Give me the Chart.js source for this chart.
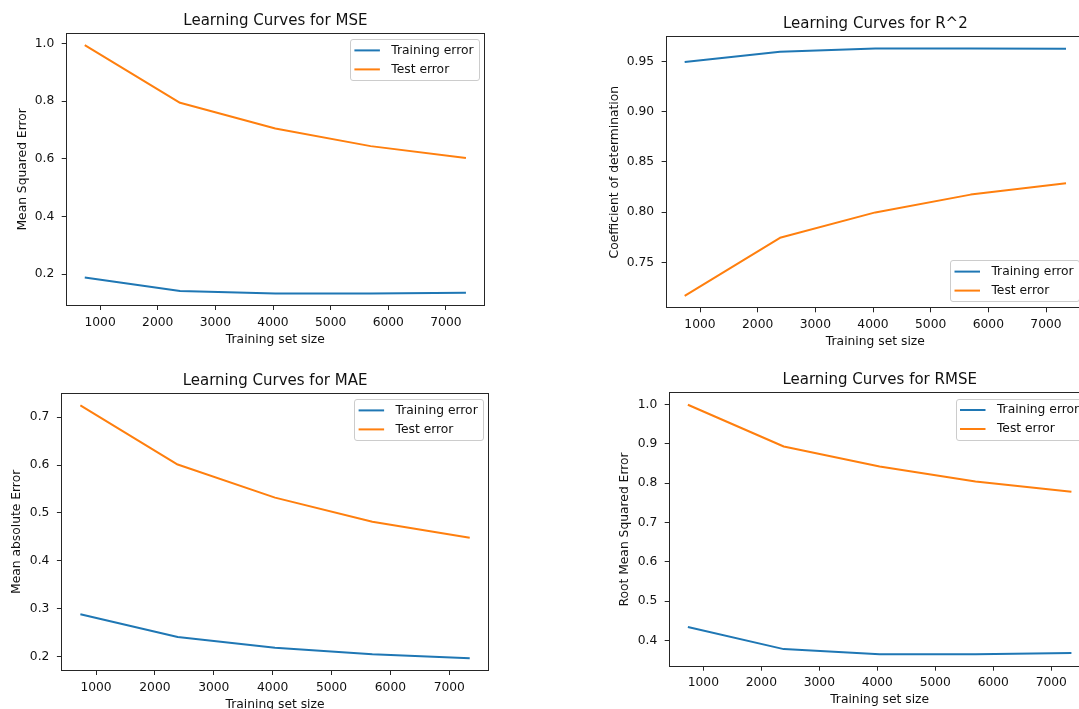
<!DOCTYPE html>
<html>
<head>
<meta charset="utf-8">
<script src="https://cdn.jsdelivr.net/npm/chart.js@4/dist/chart.umd.min.js"></script>
<style>
html,body{margin:0;padding:0;background:#fff;overflow:hidden;width:1079px;height:709px;position:relative}
canvas{position:absolute;display:block}
</style>
</head>
<body>
<canvas id="c1" width="540" height="355" style="left:0;top:0"></canvas>
<canvas id="c2" width="560" height="355" style="left:540px;top:0"></canvas>
<canvas id="c3" width="540" height="360" style="left:0;top:355px"></canvas>
<canvas id="c4" width="560" height="360" style="left:540px;top:355px"></canvas>
<script>
// ---- data ----
const trainSizes = [734, 2387, 4040, 5693, 7347];
const xTicks = [1000, 2000, 3000, 4000, 5000, 6000, 7000];
const seriesLabels = ['Training error', 'Test error'];

const mseTrain = [0.189, 0.142, 0.133, 0.133, 0.136];
const mseTest  = [0.994, 0.794, 0.705, 0.644, 0.603];
const r2Train  = [0.9494, 0.9597, 0.9630, 0.9630, 0.9627];
const r2Test   = [0.7167, 0.7745, 0.7998, 0.8175, 0.8288];
const maeTrain = [0.2887, 0.2412, 0.2188, 0.2050, 0.1967];
const maeTest  = [0.7245, 0.6010, 0.5320, 0.4818, 0.4483];
const rmseTrain = [0.434, 0.378, 0.365, 0.365, 0.368];
const rmseTest  = [0.999, 0.893, 0.842, 0.804, 0.778];

const mseYTicks  = [0.2, 0.4, 0.6, 0.8, 1.0];
const r2YTicks   = [0.75, 0.80, 0.85, 0.90, 0.95];
const maeYTicks  = [0.2, 0.3, 0.4, 0.5, 0.6, 0.7];
const rmseYTicks = [0.4, 0.5, 0.6, 0.7, 0.8, 0.9, 1.0];

const titles = ['Learning Curves for MSE', 'Learning Curves for R^2', 'Learning Curves for MAE', 'Learning Curves for RMSE'];
const yTitles = ['Mean Squared Error', 'Coefficient of determination', 'Mean absolute Error', 'Root Mean Squared Error'];
const xTitle = 'Training set size';

// ---- style ----
const FONT = '"DejaVu Sans", "Liberation Sans", sans-serif';
const TXT = '#111111';
const AX = '#262626';
const BLUE = '#1f77b4', ORANGE = '#ff7f0e';
const FS = 12.3, TFS = 15, LW = 2;

const axesBox = {
  id: 'axesBox',
  afterDraw(chart) {
    const a = chart.chartArea, ctx = chart.ctx;
    ctx.save();
    ctx.strokeStyle = AX; ctx.lineWidth = 1;
    const l = Math.round(a.left) + 0.5, t = Math.round(a.top) + 0.5;
    const r = Math.round(a.right) - 0.5, b = Math.round(a.bottom) - 0.5;
    ctx.strokeRect(l, t, r - l, b - t);
    ctx.restore();
    // legend (matplotlib style, inside the axes)
    const opt = chart.options.plugins.mplLegend || {};
    const ds = chart.data.datasets;
    ctx.save();
    ctx.font = FS + 'px ' + FONT;
    let tw = 0;
    ds.forEach(d => { tw = Math.max(tw, ctx.measureText(d.label).width); });
    const padL = 4.5, hl = 25.5, htp = 11.4, padR = 5;
    const rowTop = 11.2, rowH = 19;
    const w = padL + hl + htp + tw + padR;
    const h = rowTop * 2 + rowH * (ds.length - 1);
    const gap = 6.5;
    const x = a.right - gap - w;
    const y = opt.loc === 'lower right' ? a.bottom - gap - h : a.top + gap;
    ctx.beginPath();
    ctx.roundRect(Math.round(x) + 0.5, Math.round(y) + 0.5, Math.round(w), Math.round(h), 2.5);
    ctx.fillStyle = 'rgba(255,255,255,0.8)';
    ctx.fill();
    ctx.strokeStyle = '#cccccc'; ctx.lineWidth = 1;
    ctx.stroke();
    ds.forEach((d, i) => {
      const cy = y + rowTop + i * rowH;
      ctx.beginPath();
      ctx.strokeStyle = d.borderColor; ctx.lineWidth = LW;
      ctx.moveTo(x + padL, cy); ctx.lineTo(x + padL + hl, cy);
      ctx.stroke();
      ctx.fillStyle = TXT; ctx.textBaseline = 'middle'; ctx.textAlign = 'left';
      ctx.fillText(d.label, x + padL + hl + htp, cy);
    });
    ctx.restore();
  }
};

function range(arrs) {
  const all = [].concat(...arrs);
  const mn = Math.min(...all), mx = Math.max(...all);
  const m = (mx - mn) * 0.05;
  return [mn - m, mx + m];
}

function makeChart(id, idx, train, test, yTicks, dec, lay) {
  const xr = range([trainSizes]);
  const yr = range([train, test]);
  const pts = arr => trainSizes.map((s, i) => ({x: s, y: arr[i]}));
  return new Chart(document.getElementById(id), {
    type: 'line',
    data: {
      datasets: [
        {label: seriesLabels[0], data: pts(train), borderColor: BLUE, backgroundColor: BLUE, borderWidth: LW, pointRadius: 0, tension: 0, borderJoinStyle: 'round'},
        {label: seriesLabels[1], data: pts(test), borderColor: ORANGE, backgroundColor: ORANGE, borderWidth: LW, pointRadius: 0, tension: 0, borderJoinStyle: 'round'}
      ]
    },
    options: {
      responsive: false,
      animation: false,
      events: [],
      layout: {padding: {left: lay.pl, right: lay.pr, top: 0, bottom: lay.pb}},
      plugins: {
        legend: {display: false},
        tooltip: {enabled: false},
        title: {display: true, text: titles[idx], fullSize: false, color: TXT,
                font: {family: FONT, size: TFS, weight: 'normal'},
                padding: {top: lay.pt, bottom: 2.7}},
        mplLegend: {loc: lay.loc}
      },
      scales: {
        x: {
          type: 'linear', min: xr[0], max: xr[1],
          afterBuildTicks: s => { s.ticks = xTicks.map(v => ({value: v})); },
          afterFit: s => { s.height = lay.xh; },
          ticks: {color: TXT, font: {family: FONT, size: FS}, padding: 5, maxRotation: 0, autoSkip: false,
                  callback: v => String(v)},
          grid: {display: true, drawOnChartArea: false, drawTicks: true, tickLength: 4, tickColor: AX, tickWidth: 1},
          border: {display: false},
          title: {display: true, text: xTitle, color: TXT, font: {family: FONT, size: FS}, padding: {top: 0, bottom: 0}}
        },
        y: {
          type: 'linear', min: yr[0], max: yr[1],
          afterBuildTicks: s => { s.ticks = yTicks.map(v => ({value: v})); },
          afterFit: s => { s.width = lay.yw; },
          ticks: {color: TXT, font: {family: FONT, size: FS}, padding: 7.5, autoSkip: false,
                  callback: v => Number(v).toFixed(dec)},
          grid: {display: true, drawOnChartArea: false, drawTicks: true, tickLength: 4, tickColor: AX, tickWidth: 1},
          border: {display: false},
          title: {display: true, text: yTitles[idx], color: TXT, font: {family: FONT, size: FS}, padding: {top: 0, bottom: 0}}
        }
      }
    },
    plugins: [axesBox]
  });
}

makeChart('c1', 0, mseTrain, mseTest, mseYTicks, 1,
  {pl: 15.9, yw: 49.8, pr: 55, pt: 12.0, xh: 40.7, pb: 8.3, loc: 'upper right'});
makeChart('c2', 1, r2Train, r2Test, r2YTicks, 2,
  {pl: 67.9, yw: 57.7, pr: 14.9, pt: 15.3, xh: 40.7, pb: 6.0, loc: 'lower right'});
makeChart('c3', 2, maeTrain, maeTest, maeYTicks, 1,
  {pl: 9.3, yw: 51.6, pr: 50.8, pt: 17.0, xh: 40.7, pb: 3.3, loc: 'upper right'});
makeChart('c4', 3, rmseTrain, rmseTest, rmseYTicks, 1,
  {pl: 77.9, yw: 50.8, pr: 9.4, pt: 16.6, xh: 40.7, pb: 7.6, loc: 'upper right'});
</script>
</body>
</html>
